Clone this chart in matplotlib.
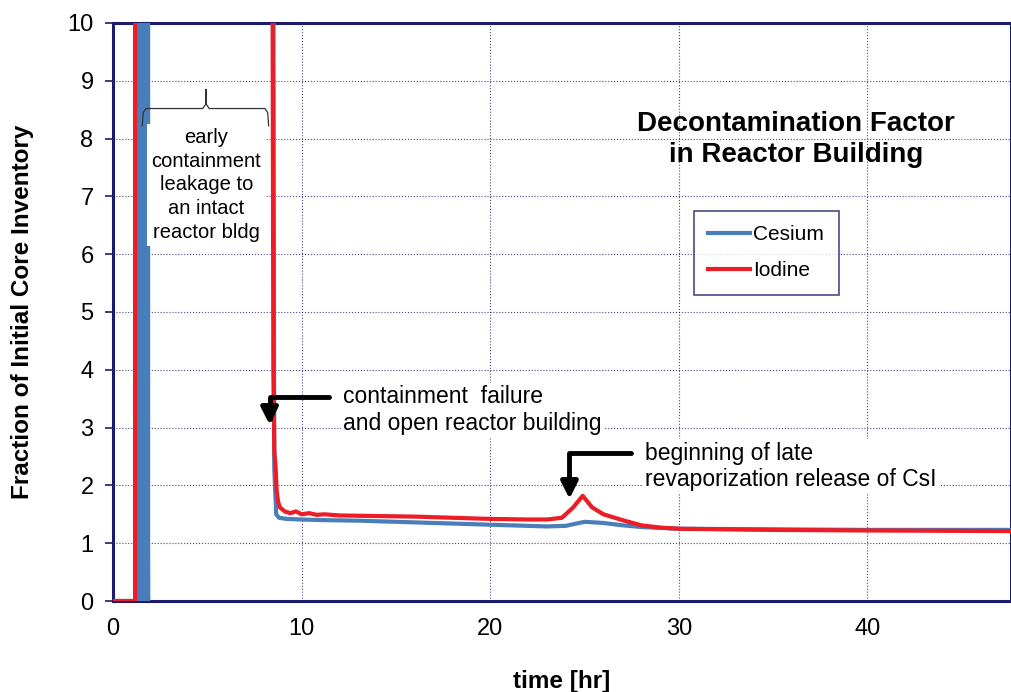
import numpy as np
import matplotlib.pyplot as plt

# time [hr] and fraction values
cs_time = [0.0, 1.38, 1.38, 1.5, 1.5, 1.62, 1.62, 1.74, 1.74, 1.86, 1.86,
           8.5, 8.55, 8.65, 8.8, 9.2, 10.0, 11.0, 13.0, 15.0, 17.0, 19.0,
           21.0, 23.0, 24.0, 25.0, 26.0, 27.0, 28.0, 30.0, 35.0, 40.0, 47.6]
cs_frac = [0.0, 0.0, 12.0, 0.0, 12.0, 0.0, 12.0, 0.0, 12.0, 0.0, 12.0,
           12.0, 2.3, 1.5, 1.44, 1.42, 1.41, 1.40, 1.39, 1.37, 1.35, 1.33,
           1.31, 1.29, 1.30, 1.37, 1.35, 1.31, 1.28, 1.25, 1.24, 1.23, 1.23]

i_time = [0.0, 1.17, 1.17, 8.45, 8.5, 8.55, 8.62, 8.68, 8.75, 8.85, 9.1,
          9.4, 9.7, 10.0, 10.4, 10.8, 11.2, 12.0, 14.0, 16.0, 18.0, 20.0,
          22.0, 23.0, 23.8, 24.4, 24.9, 25.4, 26.0, 27.0, 28.0, 29.0,
          30.0, 35.0, 40.0, 47.6]
i_frac = [0.0, 0.0, 12.0, 12.0, 4.0, 2.6, 2.3, 1.9, 1.72, 1.62, 1.55,
          1.52, 1.55, 1.50, 1.52, 1.49, 1.50, 1.48, 1.47, 1.46, 1.44, 1.42,
          1.41, 1.41, 1.44, 1.62, 1.82, 1.62, 1.50, 1.40, 1.31, 1.27,
          1.25, 1.23, 1.22, 1.21]

x_ticks = [0, 10, 20, 30, 40]
y_ticks = list(range(0, 11))

navy = '#1c1c6b'
plt.rcParams['font.family'] = ['Liberation Sans', 'DejaVu Sans']

fig = plt.figure(figsize=(10.11, 6.92), dpi=100)
ax = fig.add_axes([0.1118, 0.1315, 0.888, 0.8353])

ax.plot(cs_time, cs_frac, color='#4a7ebb', lw=3.0, label='Cesium', zorder=3)
ax.plot(i_time, i_frac, color='#ee1c25', lw=3.0, label='Iodine', zorder=4)

ax.set_xlim(0, 47.6)
ax.set_ylim(0, 10)
ax.set_xticks(x_ticks)
ax.set_yticks(y_ticks)
ax.tick_params(axis='both', labelsize=17, colors='black', direction='out',
               length=6, width=1.2, color=navy)
ax.tick_params(axis='x', length=0, pad=12)
ax.tick_params(axis='y', pad=8)
ax.grid(True, color=navy, linestyle=':', linewidth=0.8, alpha=0.8)
ax.set_axisbelow(True)
for side in ['left', 'bottom', 'top', 'right']:
    ax.spines[side].set_color(navy)
    ax.spines[side].set_linewidth(2.2)

ax.set_xlabel('time [hr]', fontsize=17.5, fontweight='bold', labelpad=22)
ax.set_ylabel('Fraction of Initial Core Inventory', fontsize=17.5,
              fontweight='bold', labelpad=24)

ax.text(36.2, 7.98, 'Decontamination Factor\nin Reactor Building',
        fontsize=20, fontweight='bold', ha='center', va='center',
        linespacing=1.25)

leg = ax.legend(loc='upper left', bbox_to_anchor=(0.647, 0.675), fontsize=15,
                frameon=True, fancybox=False, handlelength=2.0,
                handletextpad=0.15, labelspacing=0.8, borderpad=0.7,
                borderaxespad=0)
leg.get_frame().set_edgecolor(navy)
leg.get_frame().set_linewidth(1.2)

# early leakage note with brace
ax.text(4.95, 7.2, 'early\ncontainment\nleakage to\nan intact\nreactor bldg',
        fontsize=14.5, ha='center', va='center', linespacing=1.32, zorder=6,
        bbox=dict(boxstyle='square,pad=0.2', fc='white', ec='none'))
brace_x = [1.55, 1.6, 1.75, 4.75, 4.93, 4.93, 4.93, 5.1, 8.05, 8.2, 8.25]
brace_y = [8.22, 8.45, 8.52, 8.52, 8.6, 8.85, 8.6, 8.52, 8.52, 8.45, 8.22]
ax.plot(brace_x, brace_y, color='#333333', lw=0.9, zorder=7)

# arrows
ax.annotate('', xy=(8.3, 3.0), xytext=(11.6, 3.53), zorder=8,
            arrowprops=dict(arrowstyle='-|>,head_width=0.5,head_length=1.0',
                            color='black', lw=3.5,
                            connectionstyle='angle,angleA=0,angleB=90,rad=0'))
ax.text(12.2, 3.3, 'containment  failure\nand open reactor building',
        fontsize=16.5, ha='left', va='center', linespacing=1.2,
        bbox=dict(boxstyle='square,pad=0.1', fc='white', ec='none'))

ax.annotate('', xy=(24.2, 1.72), xytext=(27.6, 2.56), zorder=8,
            arrowprops=dict(arrowstyle='-|>,head_width=0.5,head_length=1.0',
                            color='black', lw=3.5,
                            connectionstyle='angle,angleA=0,angleB=90,rad=0'))
ax.text(28.2, 2.33, 'beginning of late\nrevaporization release of CsI',
        fontsize=16.5, ha='left', va='center', linespacing=1.2,
        bbox=dict(boxstyle='square,pad=0.1', fc='white', ec='none'))

fig.savefig('out.png', dpi=100)
